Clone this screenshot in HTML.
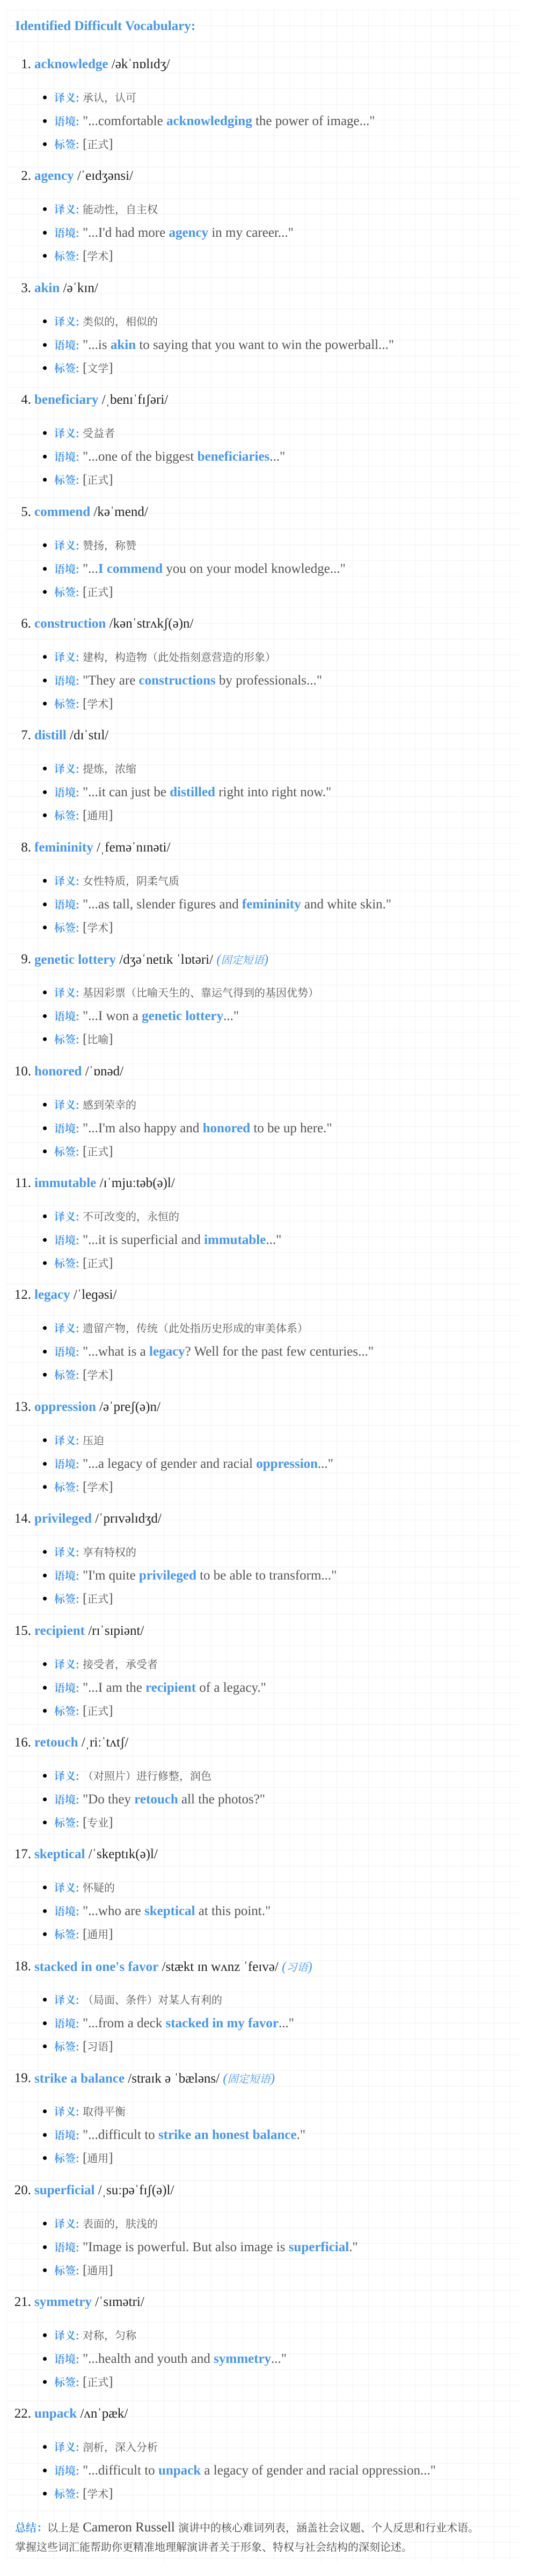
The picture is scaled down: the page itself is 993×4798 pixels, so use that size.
<!DOCTYPE html>
<html><head><meta charset="utf-8">
<style>
*{margin:0;padding:0;box-sizing:border-box}
html,body{width:993px;height:4798px;background:#fff;overflow:hidden}
body{position:relative;font-family:"Liberation Serif","Noto Serif CJK SC",serif;font-size:25px;color:#555}
.bg{position:absolute;left:12px;top:18px;width:955px;height:4754px;background-color:#fff;
background-image:linear-gradient(to right,rgba(0,0,0,.045) 1px,transparent 1px),linear-gradient(to bottom,rgba(0,0,0,.05) 1px,transparent 1px);
background-size:29.3px 29.3px}
.c{font-family:"Noto Serif CJK SC","Noto Sans CJK SC",serif;font-size:20px}
.b{color:#4596f0;font-weight:bold}
.title{position:absolute;left:28px;top:34px;line-height:30px;white-space:nowrap}
.it{position:absolute;left:0;width:993px;height:200px}
.h,.l{position:absolute;line-height:30px;white-space:nowrap}
.h{left:64px;top:0;color:#222}
.h .n{position:absolute;right:100%;padding-right:6px;top:0;color:#222;font-weight:normal}
.l{left:101px}
.l::before{content:"";position:absolute;left:-21px;top:12px;width:7px;height:7px;border-radius:50%;background:#000}
.l1{top:61px}.l2{top:105px}.l3{top:148px}
.i{color:#4596f0;font-style:italic}
.sum{position:absolute;left:28px;line-height:30px;white-space:nowrap;color:#444}
</style></head><body>
<div class="bg"></div>
<div class="title b">Identified Difficult Vocabulary:</div>

<div class="it" style="top:105px"><div class="h"><span class="n">1.</span><span class="b">acknowledge</span> /əkˈnɒlɪdʒ/</div>
<div class="l l1"><span class="b c">译义:</span> <span class="c">承认，认可</span></div>
<div class="l l2"><span class="b c">语境:</span> "...comfortable <span class="b">acknowledging</span> the power of image..."</div>
<div class="l l3"><span class="b c">标签:</span> [<span class="c">正式</span>]</div></div>

<div class="it" style="top:313.4px"><div class="h"><span class="n">2.</span><span class="b">agency</span> /ˈeɪdʒənsi/</div>
<div class="l l1"><span class="b c">译义:</span> <span class="c">能动性，自主权</span></div>
<div class="l l2"><span class="b c">语境:</span> "...I'd had more <span class="b">agency</span> in my career..."</div>
<div class="l l3"><span class="b c">标签:</span> [<span class="c">学术</span>]</div></div>

<div class="it" style="top:521.8px"><div class="h"><span class="n">3.</span><span class="b">akin</span> /əˈkɪn/</div>
<div class="l l1"><span class="b c">译义:</span> <span class="c">类似的，相似的</span></div>
<div class="l l2"><span class="b c">语境:</span> "...is <span class="b">akin</span> to saying that you want to win the powerball..."</div>
<div class="l l3"><span class="b c">标签:</span> [<span class="c">文学</span>]</div></div>

<div class="it" style="top:730.2px"><div class="h"><span class="n">4.</span><span class="b">beneficiary</span> /ˌbenɪˈfɪʃəri/</div>
<div class="l l1"><span class="b c">译义:</span> <span class="c">受益者</span></div>
<div class="l l2"><span class="b c">语境:</span> "...one of the biggest <span class="b">beneficiaries</span>..."</div>
<div class="l l3"><span class="b c">标签:</span> [<span class="c">正式</span>]</div></div>

<div class="it" style="top:938.6px"><div class="h"><span class="n">5.</span><span class="b">commend</span> /kəˈmend/</div>
<div class="l l1"><span class="b c">译义:</span> <span class="c">赞扬，称赞</span></div>
<div class="l l2"><span class="b c">语境:</span> "...<span class="b">I commend</span> you on your model knowledge..."</div>
<div class="l l3"><span class="b c">标签:</span> [<span class="c">正式</span>]</div></div>

<div class="it" style="top:1147px"><div class="h"><span class="n">6.</span><span class="b">construction</span> /kənˈstrʌkʃ(ə)n/</div>
<div class="l l1"><span class="b c">译义:</span> <span class="c">建构，构造物（此处指刻意营造的形象）</span></div>
<div class="l l2"><span class="b c">语境:</span> "They are <span class="b">constructions</span> by professionals..."</div>
<div class="l l3"><span class="b c">标签:</span> [<span class="c">学术</span>]</div></div>

<div class="it" style="top:1355.4px"><div class="h"><span class="n">7.</span><span class="b">distill</span> /dɪˈstɪl/</div>
<div class="l l1"><span class="b c">译义:</span> <span class="c">提炼，浓缩</span></div>
<div class="l l2"><span class="b c">语境:</span> "...it can just be <span class="b">distilled</span> right into right now."</div>
<div class="l l3"><span class="b c">标签:</span> [<span class="c">通用</span>]</div></div>

<div class="it" style="top:1563.8px"><div class="h"><span class="n">8.</span><span class="b">femininity</span> /ˌfeməˈnɪnəti/</div>
<div class="l l1"><span class="b c">译义:</span> <span class="c">女性特质，阴柔气质</span></div>
<div class="l l2"><span class="b c">语境:</span> "...as tall, slender figures and <span class="b">femininity</span> and white skin."</div>
<div class="l l3"><span class="b c">标签:</span> [<span class="c">学术</span>]</div></div>

<div class="it" style="top:1772.2px"><div class="h"><span class="n">9.</span><span class="b">genetic lottery</span> /dʒəˈnetɪk ˈlɒtəri/ <span class="i">(<span class="c">固定短语</span>)</span></div>
<div class="l l1"><span class="b c">译义:</span> <span class="c">基因彩票（比喻天生的、靠运气得到的基因优势）</span></div>
<div class="l l2"><span class="b c">语境:</span> "...I won a <span class="b">genetic lottery</span>..."</div>
<div class="l l3"><span class="b c">标签:</span> [<span class="c">比喻</span>]</div></div>

<div class="it" style="top:1980.6px"><div class="h"><span class="n">10.</span><span class="b">honored</span> /ˈɒnəd/</div>
<div class="l l1"><span class="b c">译义:</span> <span class="c">感到荣幸的</span></div>
<div class="l l2"><span class="b c">语境:</span> "...I'm also happy and <span class="b">honored</span> to be up here."</div>
<div class="l l3"><span class="b c">标签:</span> [<span class="c">正式</span>]</div></div>

<div class="it" style="top:2189px"><div class="h"><span class="n">11.</span><span class="b">immutable</span> /ɪˈmjuːtəb(ə)l/</div>
<div class="l l1"><span class="b c">译义:</span> <span class="c">不可改变的，永恒的</span></div>
<div class="l l2"><span class="b c">语境:</span> "...it is superficial and <span class="b">immutable</span>..."</div>
<div class="l l3"><span class="b c">标签:</span> [<span class="c">正式</span>]</div></div>

<div class="it" style="top:2397.4px"><div class="h"><span class="n">12.</span><span class="b">legacy</span> /ˈleɡəsi/</div>
<div class="l l1"><span class="b c">译义:</span> <span class="c">遗留产物，传统（此处指历史形成的审美体系）</span></div>
<div class="l l2"><span class="b c">语境:</span> "...what is a <span class="b">legacy</span>? Well for the past few centuries..."</div>
<div class="l l3"><span class="b c">标签:</span> [<span class="c">学术</span>]</div></div>

<div class="it" style="top:2605.8px"><div class="h"><span class="n">13.</span><span class="b">oppression</span> /əˈpreʃ(ə)n/</div>
<div class="l l1"><span class="b c">译义:</span> <span class="c">压迫</span></div>
<div class="l l2"><span class="b c">语境:</span> "...a legacy of gender and racial <span class="b">oppression</span>..."</div>
<div class="l l3"><span class="b c">标签:</span> [<span class="c">学术</span>]</div></div>

<div class="it" style="top:2814.2px"><div class="h"><span class="n">14.</span><span class="b">privileged</span> /ˈprɪvəlɪdʒd/</div>
<div class="l l1"><span class="b c">译义:</span> <span class="c">享有特权的</span></div>
<div class="l l2"><span class="b c">语境:</span> "I'm quite <span class="b">privileged</span> to be able to transform..."</div>
<div class="l l3"><span class="b c">标签:</span> [<span class="c">正式</span>]</div></div>

<div class="it" style="top:3022.6px"><div class="h"><span class="n">15.</span><span class="b">recipient</span> /rɪˈsɪpiənt/</div>
<div class="l l1"><span class="b c">译义:</span> <span class="c">接受者，承受者</span></div>
<div class="l l2"><span class="b c">语境:</span> "...I am the <span class="b">recipient</span> of a legacy."</div>
<div class="l l3"><span class="b c">标签:</span> [<span class="c">正式</span>]</div></div>

<div class="it" style="top:3231px"><div class="h"><span class="n">16.</span><span class="b">retouch</span> /ˌriːˈtʌtʃ/</div>
<div class="l l1"><span class="b c">译义:</span> <span class="c">（对照片）进行修整，润色</span></div>
<div class="l l2"><span class="b c">语境:</span> "Do they <span class="b">retouch</span> all the photos?"</div>
<div class="l l3"><span class="b c">标签:</span> [<span class="c">专业</span>]</div></div>

<div class="it" style="top:3439.4px"><div class="h"><span class="n">17.</span><span class="b">skeptical</span> /ˈskeptɪk(ə)l/</div>
<div class="l l1"><span class="b c">译义:</span> <span class="c">怀疑的</span></div>
<div class="l l2"><span class="b c">语境:</span> "...who are <span class="b">skeptical</span> at this point."</div>
<div class="l l3"><span class="b c">标签:</span> [<span class="c">通用</span>]</div></div>

<div class="it" style="top:3647.8px"><div class="h"><span class="n">18.</span><span class="b">stacked in one's favor</span> /stækt ɪn wʌnz ˈfeɪvə/ <span class="i">(<span class="c">习语</span>)</span></div>
<div class="l l1"><span class="b c">译义:</span> <span class="c">（局面、条件）对某人有利的</span></div>
<div class="l l2"><span class="b c">语境:</span> "...from a deck <span class="b">stacked in my favor</span>..."</div>
<div class="l l3"><span class="b c">标签:</span> [<span class="c">习语</span>]</div></div>

<div class="it" style="top:3856.2px"><div class="h"><span class="n">19.</span><span class="b">strike a balance</span> /straɪk ə ˈbæləns/ <span class="i">(<span class="c">固定短语</span>)</span></div>
<div class="l l1"><span class="b c">译义:</span> <span class="c">取得平衡</span></div>
<div class="l l2"><span class="b c">语境:</span> "...difficult to <span class="b">strike an honest balance</span>."</div>
<div class="l l3"><span class="b c">标签:</span> [<span class="c">通用</span>]</div></div>

<div class="it" style="top:4064.6px"><div class="h"><span class="n">20.</span><span class="b">superficial</span> /ˌsuːpəˈfɪʃ(ə)l/</div>
<div class="l l1"><span class="b c">译义:</span> <span class="c">表面的，肤浅的</span></div>
<div class="l l2"><span class="b c">语境:</span> "Image is powerful. But also image is <span class="b">superficial</span>."</div>
<div class="l l3"><span class="b c">标签:</span> [<span class="c">通用</span>]</div></div>

<div class="it" style="top:4273px"><div class="h"><span class="n">21.</span><span class="b">symmetry</span> /ˈsɪmətri/</div>
<div class="l l1"><span class="b c">译义:</span> <span class="c">对称，匀称</span></div>
<div class="l l2"><span class="b c">语境:</span> "...health and youth and <span class="b">symmetry</span>..."</div>
<div class="l l3"><span class="b c">标签:</span> [<span class="c">正式</span>]</div></div>

<div class="it" style="top:4481.4px"><div class="h"><span class="n">22.</span><span class="b">unpack</span> /ʌnˈpæk/</div>
<div class="l l1"><span class="b c">译义:</span> <span class="c">剖析，深入分析</span></div>
<div class="l l2"><span class="b c">语境:</span> "...difficult to <span class="b">unpack</span> a legacy of gender and racial oppression..."</div>
<div class="l l3"><span class="b c">标签:</span> [<span class="c">学术</span>]</div></div>

<div class="sum" style="top:4692px"><span class="b c">总结：</span><span class="c">以上是</span> Cameron Russell <span class="c">演讲中的核心难词列表，涵盖社会议题、个人反思和行业术语。</span></div>
<div class="sum" style="top:4728px"><span class="c">掌握这些词汇能帮助你更精准地理解演讲者关于形象、特权与社会结构的深刻论述。</span></div>
</body></html>
